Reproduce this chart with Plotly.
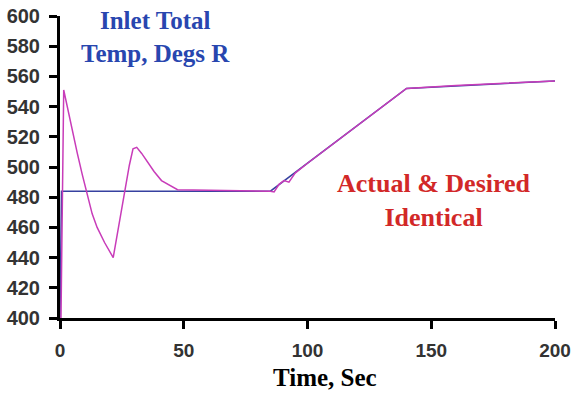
import plotly.graph_objects as go

# Time (s) and temperature (deg R)
desired_t = [0, 0.6, 85, 140, 200]
desired_v = [400, 484, 484, 552, 557]

actual_t = [0, 0.4, 1.5, 3, 5, 7, 9, 11, 13, 15, 18, 21.5, 23.5, 25.6, 28, 29.5, 31, 33, 35, 38, 41, 44, 47.5,
            85, 86.5, 88.5, 90.5, 92.5, 95, 100, 120, 140, 160, 180, 200]
actual_v = [400, 400, 551, 539, 524, 509, 495, 481, 469, 460, 450, 440, 459, 478, 501, 512, 513, 509, 504, 497, 491, 488, 485,
            484, 483.5, 488.5, 491, 490, 496, 502.5, 527.3, 552, 554, 555.5, 557]

x_ticks = [0, 50, 100, 150, 200]
y_ticks = [400, 420, 440, 460, 480, 500, 520, 540, 560, 580, 600]

fig = go.Figure()
fig.add_trace(go.Scatter(x=desired_t, y=desired_v, mode="lines",
                         line=dict(color="rgb(55,65,160)", width=1.5), showlegend=False))
fig.add_trace(go.Scatter(x=actual_t, y=actual_v, mode="lines",
                         line=dict(color="rgb(200,60,185)", width=1.5), showlegend=False))

serif = "Liberation Serif, Times New Roman"
fig.update_layout(
    width=582, height=393,
    margin=dict(l=60, r=27, t=16, b=75),
    paper_bgcolor="white", plot_bgcolor="white",
    xaxis=dict(range=[0, 200], tickvals=x_ticks, showgrid=False, zeroline=False, automargin=False,
               showline=True, linecolor="black", linewidth=3,
               ticks="outside", tickwidth=3, ticklen=8, tickcolor="black",
               ticklabelstandoff=5,
               tickfont=dict(family="Liberation Sans, Arial", size=19, color="#333333", weight="bold")),
    yaxis=dict(range=[400, 600], tickvals=y_ticks, showgrid=False, zeroline=False, automargin=False,
               showline=True, linecolor="black", linewidth=3,
               ticks="outside", tickwidth=3, ticklen=8, tickcolor="black",
               ticklabelstandoff=5,
               tickfont=dict(family="Liberation Sans, Arial", size=20, color="#333333", weight="bold")),
    annotations=[
        dict(x=(155 - 60) / 495, y=1 + (16 - 5) / 302, xref="paper", yref="paper",
             xanchor="center", yanchor="top",
             text="Inlet Total<br>Temp, Degs R", showarrow=False, align="center",
             font=dict(family=serif, size=25, color="rgb(40,70,175)", weight="bold")),
        dict(x=(434 - 60) / 495, y=1 - (167 - 16) / 302, xref="paper", yref="paper",
             xanchor="center", yanchor="top",
             text="Actual & Desired<br>Identical", showarrow=False, align="center",
             font=dict(family=serif, size=26, color="rgb(210,40,40)", weight="bold")),
        dict(x=(325 - 60) / 495, y=-(378 - 318) / 302, xref="paper", yref="paper",
             xanchor="center", yanchor="middle",
             text="Time, Sec", showarrow=False,
             font=dict(family=serif, size=25, color="black", weight="bold")),
    ],
)
fig.write_html("out.html")
